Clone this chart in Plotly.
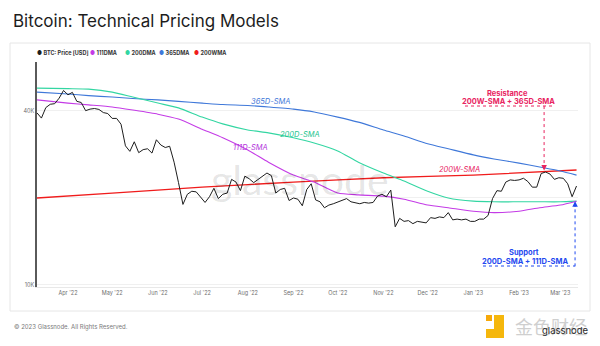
import numpy as np
import pandas as pd
import plotly.graph_objects as go

# ---------------------------------------------------------------- data
# BTC close, sampled every third day from 11 Mar 2022
price_dates = pd.date_range("2022-03-11", periods=123, freq="3D")
btc_price = [
    39400, 37800, 41100, 42200, 42400, 44300, 47100, 45500, 46400, 43200,
    42800, 40100, 40600, 40800, 40500, 39500, 39200, 37700, 37700, 36000,
    30300, 29000, 31300, 28700, 29400, 29600, 28600, 31800, 30500, 29900,
    30200, 26600, 22600, 19000, 20600, 21100, 21000, 20100, 19300, 20200,
    21600, 19900, 20600, 20800, 23200, 22700, 21200, 23800, 23300, 22600,
    23200, 23900, 24400, 23900, 20800, 21400, 21600, 19600, 20000, 19800,
    18800, 21400, 22400, 19700, 19400, 18500, 18900, 19100, 19400, 19600,
    19900, 19400, 19200, 19100, 19300, 19200, 19300, 20300, 20600, 20200,
    21300, 15900, 17000, 16600, 16700, 16300, 16600, 16500, 16400, 17100,
    17000, 17200, 17100, 17800, 16800, 16900, 16800, 16900, 16600, 16600,
    16900, 16900, 17400, 19900, 21200, 21100, 22700, 23100, 23000, 23100,
    23400, 22800, 21800, 21800, 24300, 24600, 24200, 23200, 23500, 23400,
    22400, 20200, 22000,
]

# Moving averages, semi-monthly samples
ma_dates = [
    "2022-03-11", "2022-04-01", "2022-04-15", "2022-05-01", "2022-05-15",
    "2022-06-01", "2022-06-15", "2022-07-01", "2022-07-15", "2022-08-01",
    "2022-08-15", "2022-09-01", "2022-09-15", "2022-10-01", "2022-10-15",
    "2022-11-01", "2022-11-15", "2022-12-01", "2022-12-15", "2023-01-01",
    "2023-01-15", "2023-02-01", "2023-02-15", "2023-03-01", "2023-03-12",
]
sma_111d = [43700, 42600, 42000, 41300, 40300, 39000, 37500, 34600, 32300, 29300,
            26600, 24000, 22700, 20800, 20500, 20300, 19800, 18900, 18500, 18000,
            17800, 18000, 18500, 18900, 19500]
sma_200d = [48000, 47800, 47600, 46500, 44700, 42600, 41000, 38100, 36100, 34400,
            33600, 32300, 31000, 29100, 26600, 24400, 22900, 21100, 20000, 19500,
            19400, 19400, 19400, 19400, 19500]
sma_365d = [46500, 45800, 45200, 44700, 44200, 43700, 43200, 42600, 42100, 41800,
            41300, 40600, 39700, 38100, 36600, 34400, 32800, 30800, 29600, 28200,
            27300, 26400, 25600, 24800, 24000]

wma_dates = ["2022-03-11", "2022-05-01", "2022-07-01", "2022-09-01",
             "2022-11-01", "2023-01-01", "2023-03-12"]
wma_200w = [20000, 20800, 21800, 22700, 23500, 24000, 25000]

# Where the averages meet (callout anchors)
resist_date, resist_level = "2023-02-18", 24900
support_date, support_level = "2023-03-11", 19500
resist_label_level = 41600
support_label_level = 11600

# Axis ticks
y_tick_vals = [10000, 20000, 40000]
y_tick_text = ["10K", "", "40K"]
x_tick_vals = pd.date_range("2022-04-01", "2023-03-01", freq="MS")
x_tick_text = [d.strftime("%b '%y") for d in x_tick_vals]

# ---------------------------------------------------------------- style
C_PRICE = "#1e1e1e"
C_111 = "#c43be6"
C_200 = "#33d6a2"
C_365 = "#3f78d9"
C_200W = "#f01c1c"
C_RES = "#e8245f"
C_SUP = "#1f49f0"
FONT = "Inter"

# plot area in pixels (for placing text around it)
L, R, T, B = 37, 578, 62, 287


def px(x, y):
    return (x - L) / (R - L), (B - y) / (B - T)


def label(xpix, ypix, text, size, color, family=FONT, xanchor="center"):
    lx, ly = px(xpix, ypix)
    return dict(x=lx, y=ly, xref="paper", yref="paper", xanchor=xanchor, yanchor="middle",
                showarrow=False, text=text, font=dict(family=family, size=size, color=color))


fig = go.Figure()

fig.add_trace(go.Scatter(x=wma_dates, y=wma_200w, mode="lines", name="200WMA",
                         line=dict(color=C_200W, width=1.3, shape="spline", smoothing=0.6)))
fig.add_trace(go.Scatter(x=ma_dates, y=sma_365d, mode="lines", name="365DMA",
                         line=dict(color=C_365, width=1.1, shape="spline", smoothing=0.6)))
fig.add_trace(go.Scatter(x=ma_dates, y=sma_200d, mode="lines", name="200DMA",
                         line=dict(color=C_200, width=1.1, shape="spline", smoothing=0.6)))
fig.add_trace(go.Scatter(x=ma_dates, y=sma_111d, mode="lines", name="111DMA",
                         line=dict(color=C_111, width=1.1, shape="spline", smoothing=0.6)))
fig.add_trace(go.Scatter(x=price_dates, y=btc_price, mode="lines", name="BTC: Price [USD]",
                         line=dict(color=C_PRICE, width=1)))

# dotted connectors of the callouts
fig.add_trace(go.Scatter(x=[resist_date, resist_date], y=[resist_label_level, resist_level],
                         mode="lines", line=dict(color=C_RES, width=1, dash="dot"),
                         hoverinfo="skip"))
fig.add_trace(go.Scatter(x=[support_date, support_date], y=[support_label_level, support_level],
                         mode="lines", line=dict(color=C_SUP, width=1, dash="dot"),
                         hoverinfo="skip"))

ann = []

# watermark
ann.append(label(300, 179, "glassnode", 41, "rgba(0,0,0,0.11)", family="Lato"))

# legend row
legend_items = [("BTC: Price [USD]", C_PRICE, 35), ("111DMA", C_111, 88),
                ("200DMA", C_200, 123), ("365DMA", C_365, 157), ("200WMA", C_200W, 192)]
for name, col, xpix in legend_items:
    ann.append(label(xpix, 53, f"<span style='color:{col}'>●</span> <b>{name}</b>",
                     5.5, "#333", xanchor="left"))

# series labels
for text, col, (xp, yp) in [("365D-SMA", C_365, (270, 101.5)), ("200D-SMA", "#22c48e", (300, 134.5)),
                            ("111D-SMA", "#b334db", (250, 147.5)), ("200W-SMA", C_RES, (459, 169))]:
    ann.append(label(xp, yp, f"<i>{text}</i>", 7.5, col))

# callout texts
for text, col, (xp, yp) in [("<b>Resistance</b>", C_RES, (507, 93)),
                            ("<b>200W-SMA + 365D-SMA</b>", C_RES, (508, 101)),
                            ("<b>Support</b>", C_SUP, (524, 252)),
                            ("<b>200D-SMA + 111D-SMA</b>", C_SUP, (525, 261))]:
    ann.append(label(xp, yp, text, 7.5, col))

# arrow heads at the meeting points
ann.append(dict(x=resist_date, y=np.log10(resist_level), xref="x", yref="y", text="",
                showarrow=True, arrowhead=2, arrowsize=1.1, arrowwidth=1, arrowcolor=C_RES,
                ax=0, ay=-7))
ann.append(dict(x=support_date, y=np.log10(support_level), xref="x", yref="y", text="",
                showarrow=True, arrowhead=2, arrowsize=1.1, arrowwidth=1, arrowcolor=C_SUP,
                ax=0, ay=7))

# footer
ann.append(label(12, 327, "© 2023 Glassnode. All Rights Reserved.", 6, "#7a7a7a", xanchor="left"))
ann.append(label(513, 326, "金色财经", 18, "#cfcfcf", family="Noto Sans CJK SC", xanchor="left"))
ann.append(label(540, 330, "glassnode", 9.5, "#2a2a2a", xanchor="left"))

shapes = []
# card outline
x0, y0 = px(10, 311)
x1, y1 = px(590, 43)
shapes.append(dict(type="rect", xref="paper", yref="paper", x0=x0, y0=y0, x1=x1, y1=y1,
                   line=dict(color="#e6e6e6", width=1), layer="below"))
# dotted underlines of callouts
for (xa, xb, yy, col) in [(465, 552, 106, C_RES), (483, 575, 266, C_SUP)]:
    a, b = px(xa, yy)
    c, _ = px(xb, yy)
    shapes.append(dict(type="line", xref="paper", yref="paper", x0=a, x1=c, y0=b, y1=b,
                       line=dict(color=col, width=1, dash="dot")))
# small yellow logo mark
for (xa, ya, xb, yb, col) in [(486, 315, 492, 321, "#f7a90a"), (494, 315, 504, 338, "#f5b70c"),
                              (486, 329, 504, 338, "#f5b70c")]:
    a, b = px(xa, yb)
    c, d = px(xb, ya)
    shapes.append(dict(type="rect", xref="paper", yref="paper", x0=a, y0=b, x1=c, y1=d,
                       line=dict(width=0), fillcolor=col))

fig.update_layout(
    width=600, height=346, autosize=False,
    margin=dict(l=L, r=600 - R, t=T, b=346 - B),
    paper_bgcolor="white", plot_bgcolor="white",
    showlegend=False,
    title=dict(text="Bitcoin: Technical Pricing Models", x=13 / 600, xref="container",
               xanchor="left", y=1 - 21 / 346, yref="container", yanchor="middle",
               font=dict(family=FONT, size=17, color="#1d1d1d")),
    annotations=ann, shapes=shapes,
)
fig.update_xaxes(range=["2022-03-11", "2023-03-13"], tickvals=x_tick_vals, ticktext=x_tick_text,
                 showgrid=False, showline=True, linecolor="#e8e8e8", linewidth=1,
                 ticks="", tickfont=dict(family=FONT, size=5.5, color="#6e6e6e"), zeroline=False)
fig.update_yaxes(type="log", range=[np.log10(9840), np.log10(59100)], tickvals=y_tick_vals,
                 ticktext=y_tick_text, showgrid=True, gridcolor="#f0f0f0", gridwidth=1,
                 showline=True, linecolor="#5a5a5a", linewidth=1.5, ticks="",
                 tickfont=dict(family=FONT, size=5.5, color="#6e6e6e"), zeroline=False)

fig.write_html("out.html")
